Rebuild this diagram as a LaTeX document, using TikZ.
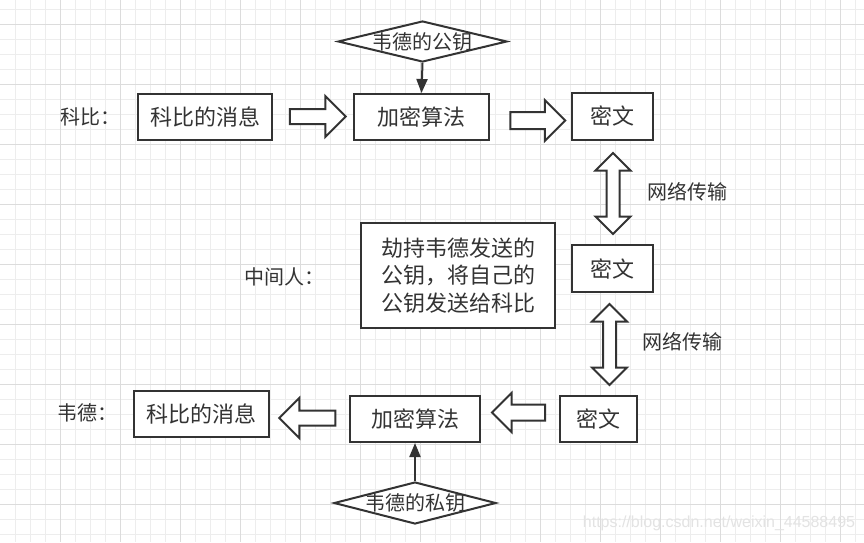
\documentclass[tikz,border=0pt]{standalone}
\usepackage{fontspec}
\setmainfont{Noto Sans CJK SC}
\newfontfamily\wmfont{Liberation Sans}
\usetikzlibrary{shapes.geometric,shapes.arrows,arrows.meta}
\definecolor{ink}{HTML}{333333}
\definecolor{gridminor}{HTML}{EDEDED}
\definecolor{gridmajor}{HTML}{DCDCDC}
\begin{document}
\begin{tikzpicture}[x=1pt,y=-1pt,
  box/.style={draw=ink,line width=2pt,fill=white,text=ink,inner sep=0pt,align=center,font=\fontsize{22}{27.5}\selectfont},
  keybox/.style={diamond,draw=ink,line width=2pt,fill=white,text=ink,inner sep=0pt,font=\fontsize{20}{24}\selectfont},
  tag/.style={text=ink,inner sep=0pt,font=\fontsize{20}{24}\selectfont},
  fat/.style={single arrow,draw=ink,line width=2pt,fill=white,single arrow tip angle=90},
  twoway/.style={double arrow,draw=ink,line width=2pt,fill=white,inner sep=5.5pt,double arrow tip angle=90,shape border rotate=90,minimum height=81pt,double arrow head extend=11pt},
  link/.style={draw=ink,line width=2pt,-{Triangle[length=14pt,width=11pt]}}]
\fill[white] (0,0) rectangle (864,542);
\useasboundingbox (0,0) rectangle (864,542);
\foreach \x in {15,30,...,855} \draw[gridminor,line width=1pt] (\x,0) -- (\x,542);
\foreach \y in {9,24,...,534} \draw[gridminor,line width=1pt] (0,\y) -- (864,\y);
\foreach \x in {60,120,...,840} \draw[gridmajor,line width=1pt] (\x,0) -- (\x,542);
\foreach \y in {24,84,...,504} \draw[gridmajor,line width=1pt] (0,\y) -- (864,\y);

\node[tag] (kobe) at (90,117) {科比：};
\node[tag] (mitm) at (284,277) {中间人：};
\node[tag] (wade) at (87,413) {韦德：};

\node[box,minimum width=134pt,minimum height=46pt] (kobemsg) at (205,117) {科比的消息};
\node[box,minimum width=135pt,minimum height=46pt] (enctop) at (421.5,117) {加密算法};
\node[box,minimum width=81pt,minimum height=47pt] (ciphertop) at (612.5,116.5) {密文};
\node[box,minimum width=81pt,minimum height=47pt] (ciphermid) at (612.5,268.5) {密文};
\node[box,minimum width=194pt,minimum height=105pt] (hijack) at (458,275.5) {劫持韦德发送的\\公钥，将自己的\\公钥发送给科比};
\node[box,minimum width=135pt,minimum height=46pt] (wademsg) at (201.5,414) {科比的消息};
\node[box,minimum width=130pt,minimum height=46pt] (decbot) at (415,419) {加密算法};
\node[box,minimum width=77pt,minimum height=46pt] (cipherbot) at (598.5,419) {密文};

\node[keybox,minimum width=169pt,minimum height=41pt] (pubkey) at (422.5,41.5) {\makebox[0pt]{韦德的公钥}};
\node[keybox,minimum width=162pt,minimum height=42pt] (privkey) at (415,503) {\makebox[0pt]{韦德的私钥}};

\draw[link] (pubkey.south) -- (enctop.north);
\draw[link] (privkey.north) -- (decbot.south);

\node[fat,inner sep=6.5pt,minimum height=56pt,single arrow head extend=13pt] (fwdone) at (314,116.5) {};
\node[fat,inner sep=7.5pt,minimum height=55pt,single arrow head extend=12pt] (fwdtwo) at (533.5,120.5) {};
\node[fat,shape border rotate=180,inner sep=7pt,minimum height=53pt,single arrow head extend=11.5pt] (backone) at (522.5,412.5) {};
\node[fat,shape border rotate=180,inner sep=6.5pt,minimum height=56pt,single arrow head extend=12.5pt] (backtwo) at (311,418) {};

\node[twoway] (netup) at (613,193.5) {};
\node[twoway] (netdown) at (609.5,344.5) {};
\node[tag,right=0pt] (nettop) at (647,192) {网络传输};
\node[tag,right=0pt] (netbot) at (642,342) {网络传输};

\node[text=gray!22,inner sep=0pt,font=\wmfont\fontsize{16}{18}\selectfont] (mark) at (719,523) {https://blog.csdn.net/weixin\_44588495};
\end{tikzpicture}
\end{document}
